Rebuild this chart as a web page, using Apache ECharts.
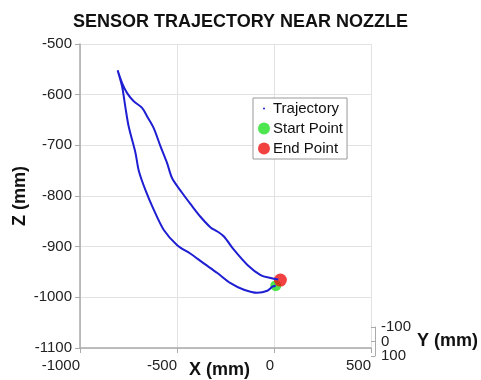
<!DOCTYPE html>
<html>
<head>
<meta charset="utf-8">
<script src="https://cdn.jsdelivr.net/npm/echarts@6/dist/echarts.min.js"></script>
<style>
  html, body { margin: 0; padding: 0; background: #fff; }
  #chart { width: 481px; height: 380px; }
</style>
</head>
<body>
<div id="chart"></div>
<script>
// trajectory: start -> outer branch up -> inner branch back down
var trajX = [9, -8, -34, -86, -155, -224, -292, -362, -430, -499, -568, -620, -663, -697, -714, -749, -766, -783, -806,
             -783, -757, -723, -680, -654, -620, -585, -551, -525, -473, -430, -379, -327, -292, -258, -207, -137, -69, -17, 22];
var trajZ = [-977, -979, -987, -991, -985, -972, -952, -933, -914, -897, -867, -827, -788, -750, -715, -663, -625, -584, -552,
             -577, -597, -613, -626, -643, -666, -702, -735, -765, -794, -816, -841, -862, -870, -880, -906, -936, -956, -962, -965];
var startPoint = [9, -977];
var endPoint = [33, -966];

var xTicks = { min: -1000, max: 500, interval: 500 };
var zTicks = { min: -1100, max: -500, interval: 100 };
var yTickLabels = ['-100', '0', '100'];

var trajectory = trajX.map(function (x, i) { return [x, trajZ[i]]; });

var chart = echarts.init(document.getElementById('chart'));
var font = 'Liberation Sans, Arial, sans-serif';
var plain = function (v) { return String(v); };

chart.setOption({
  animation: false,
  textStyle: { fontFamily: font },
  title: {
    text: 'SENSOR TRAJECTORY NEAR NOZZLE',
    left: 'center',
    top: 8,
    textStyle: { fontSize: 18, fontWeight: 'bold', color: '#111', fontFamily: font }
  },
  legend: {
    orient: 'vertical',
    left: 253,
    top: 98,
    padding: [3, 4, 3, 5],
    itemGap: 5,
    itemWidth: 12,
    itemHeight: 12,
    borderColor: '#999',
    borderWidth: 1,
    backgroundColor: '#fff',
    textStyle: { fontSize: 15, color: '#111', padding: [0, 0, 0, -2] },
    data: [
      { name: 'Trajectory', icon: 'path://M0,0M12,12M6,5A1,1,0,1,1,6,7A1,1,0,1,1,6,5Z' },
      { name: 'Start Point', icon: 'circle' },
      { name: 'End Point', icon: 'circle' }
    ]
  },
  grid: [
    { left: 80, right: 110, top: 44, bottom: 32, containLabel: false, outerBoundsMode: 'none' },
    { left: 374, width: 1, top: 327, height: 29, containLabel: false, outerBoundsMode: 'none' }
  ],
  xAxis: [
    {
      type: 'value',
      min: xTicks.min, max: xTicks.max, interval: xTicks.interval,
      name: 'X (mm)',
      nameLocation: 'middle',
      nameGap: 13,
      nameMoveOverlap: false,
      nameTextStyle: { fontSize: 18, fontWeight: 'bold', color: '#111', padding: [0, 12, 0, 0] },
      axisLine: { onZero: false, lineStyle: { color: '#aaa', width: 1.5 } },
      axisTick: { show: true, length: 5, lineStyle: { color: '#aaa' } },
      axisLabel: { fontSize: 15, color: '#222', align: 'right', margin: 10, formatter: plain },
      splitLine: { show: true, lineStyle: { color: '#e2e2e2' } }
    },
    { gridIndex: 1, type: 'value', show: false }
  ],
  yAxis: [
    {
      type: 'value',
      min: zTicks.min, max: zTicks.max, interval: zTicks.interval,
      name: 'Z (mm)',
      nameLocation: 'middle',
      nameGap: 51,
      nameMoveOverlap: false,
      nameTextStyle: { fontSize: 18, fontWeight: 'bold', color: '#111' },
      axisLine: { show: true, onZero: false, lineStyle: { color: '#aaa', width: 1.5 } },
      axisTick: { show: true, length: 5, lineStyle: { color: '#aaa' } },
      axisLabel: { fontSize: 15, color: '#222', margin: 8, formatter: plain },
      splitLine: { show: true, lineStyle: { color: '#e2e2e2' } }
    },
    {
      gridIndex: 1,
      type: 'category',
      data: yTickLabels,
      boundaryGap: false,
      position: 'right',
      inverse: true,
      name: 'Y (mm)',
      nameLocation: 'middle',
      nameRotate: 0,
      nameGap: 42,
      nameMoveOverlap: false,
      nameTextStyle: { fontSize: 18, fontWeight: 'bold', color: '#111' },
      axisLine: { show: true, onZero: false, lineStyle: { color: '#aaa' } },
      axisTick: { show: true, inside: true, length: 4, interval: 0, lineStyle: { color: '#aaa' } },
      axisLabel: { fontSize: 15, lineHeight: 11, color: '#222', margin: 6, interval: 0, hideOverlap: false },
      splitLine: { show: false }
    }
  ],
  series: [
    {
      name: 'Trajectory',
      type: 'line',
      data: trajectory,
      smooth: 0.3,
      showSymbol: false,
      color: '#1e1ed2',
      lineStyle: { color: '#1e1ed2', width: 2 },
      z: 3
    },
    {
      name: 'Start Point',
      type: 'scatter',
      data: [startPoint],
      symbolSize: 11,
      color: '#22e022',
      z: 2
    },
    {
      name: 'End Point',
      type: 'scatter',
      data: [endPoint],
      symbolSize: 13,
      color: '#ee1111',
      z: 2
    }
  ]
});
</script>
</body>
</html>
